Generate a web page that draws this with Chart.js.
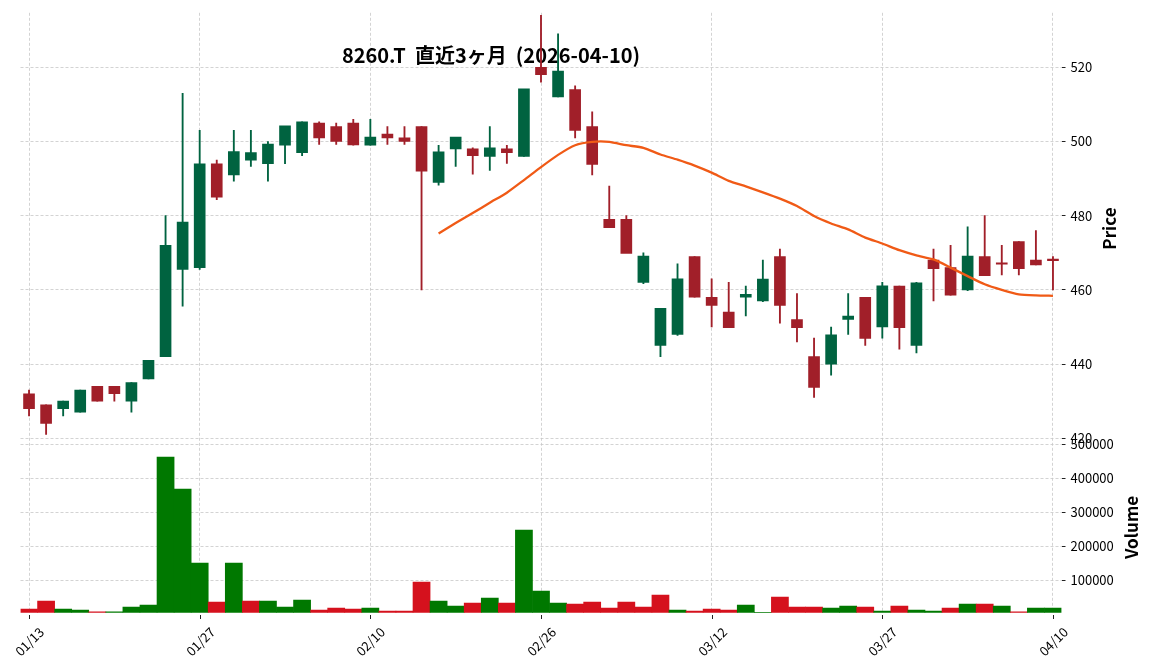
<!DOCTYPE html>
<html>
<head>
<meta charset="utf-8">
<script src="https://cdn.jsdelivr.net/npm/chart.js@4"></script>
<style>
  html, body { margin: 0; padding: 0; background: #fff; }
  #wrap { width: 1152px; height: 670px; }
</style>
</head>
<body>
<div id="wrap"><canvas id="chart"></canvas></div>
<script>
// ===== DATA =====
const dates = ['01/13','01/14','01/15','01/16','01/19','01/20','01/21','01/22','01/23','01/26',
  '01/27','01/28','01/29','01/30','02/02','02/03','02/04','02/05','02/06','02/09',
  '02/10','02/12','02/13','02/16','02/17','02/18','02/19','02/20','02/24','02/25',
  '02/26','02/27','03/02','03/03','03/04','03/05','03/06','03/09','03/10','03/11',
  '03/12','03/13','03/16','03/17','03/18','03/19','03/23','03/24','03/25','03/26',
  '03/27','03/30','03/31','04/01','04/02','04/03','04/06','04/07','04/08','04/09','04/10'];

const opens  = [432, 429, 428, 427, 434, 434, 430, 436, 442, 465.5,
  466, 494, 491, 495, 494, 499, 497, 505, 504, 505,
  499, 502, 501, 504, 489, 498, 498, 496, 498, 496,
  520, 512, 514, 504, 479, 479, 462, 445, 448, 469,
  458, 454, 458, 457, 469, 452, 442, 440, 452, 458,
  450, 461, 445, 468, 466, 460, 469, 467, 473, 468, 468];
const highs  = [433, 429, 430, 433, 434, 434, 435, 441, 480, 513,
  503, 495, 503, 503, 500, 504, 505.3, 505.3, 505, 506,
  506, 504, 504, 504, 499, 501, 498.3, 504, 499, 514,
  534, 529, 515, 508, 488, 480, 470, 455, 467, 469,
  463, 462, 461, 468, 471, 459, 447, 450, 459, 458,
  462, 461, 462, 471, 472, 477, 480, 472, 473, 476, 469];
const lows   = [426, 421, 426, 427, 430, 430, 427, 436, 442, 455.6,
  465.5, 484.3, 489.3, 493.3, 489.3, 494, 496.2, 499.2, 499.2, 499,
  499, 499.2, 499.2, 460, 488.2, 493.3, 491.2, 492.2, 494.1, 496,
  516, 512, 501, 491, 477, 470, 461.7, 442, 447.7, 458,
  450, 450, 453, 456.8, 451, 446, 431, 437, 448, 445,
  447, 444, 443, 457, 458.6, 459.8, 463.8, 464, 464, 466.7, 460];
const closes = [428, 424, 430, 433, 430, 432, 435, 441, 472, 478.3,
  494, 485, 497.3, 497, 499.3, 504.2, 505.3, 501, 500, 499.1,
  501.2, 501, 500, 492, 497.2, 501.2, 496.2, 498.3, 497, 514.2,
  518, 519, 503, 493.8, 476.8, 469.8, 469.1, 455, 463, 458,
  455.8, 449.8, 458.8, 462.9, 455.8, 449.8, 433.7, 447.9, 452.9, 446.9,
  461.1, 449.8, 461.9, 465.7, 458.6, 469.1, 463.8, 466.9, 465.7, 466.7, 467.9];

const volumes = [15700, 39200, 15700, 12700, 6900, 6900, 21600, 27500, 462700, 368600,
  151000, 36300, 151000, 39200, 39200, 21600, 42200, 12700, 18600, 15700,
  18600, 9800, 9800, 95100, 39200, 24500, 33300, 48000, 33300, 248000,
  68600, 33300, 30400, 36300, 18600, 36300, 21600, 56900, 12700, 9800,
  15700, 12700, 27500, 5900, 51000, 21600, 21600, 18600, 24500, 21600,
  9800, 24500, 12700, 9800, 18600, 30400, 30400, 24500, 6900, 18600, 18600];

// 25-day moving average as drawn (starts at the 25th session)
const ma25 = [null, null, null, null, null, null, null, null, null, null,
  null, null, null, null, null, null, null, null, null, null,
  null, null, null, null, 475.2, 478.0, 480.7, 483.5, 486.2, 489.6,
  493.1, 496.4, 499.0, 499.9, 499.9, 499.0, 498.3, 496.5, 495.1, 493.5,
  491.6, 489.4, 487.9, 486.3, 484.6, 482.6, 479.9, 477.9, 476.3, 474.1,
  472.5, 470.7, 469.3, 468.2, 466.0, 463.7, 461.5, 460.0, 458.8, 458.5, 458.4];

const priceTicks = [420, 440, 460, 480, 500, 520];
const volumeTicks = [100000, 200000, 300000, 400000, 500000];
const dateTickEvery = 10;
const titleText = '8260.T  直近3ヶ月  (2026-04-10)';

// ===== STYLE =====
const UP = '#006340', DOWN = '#a11f29';
const VUP = '#007800', VDOWN = '#d5111d';
const MA_COLOR = '#f05a16';
const GRID = '#c8c8c8';
const FONT = '"Noto Sans CJK JP", "Noto Sans", sans-serif';

const candleColors = opens.map((o, i) => closes[i] >= o ? UP : DOWN);
const volColors = closes.map((c, i) => {
  const prev = i === 0 ? opens[0] : closes[i - 1];
  return c >= prev ? VUP : VDOWN;
});

// ===== TEXT PLUGIN =====
function rotatedLabel(ctx, text, x, y, angle) {
  ctx.save();
  ctx.translate(x, y);
  ctx.rotate(angle);
  ctx.fillText(text, 0, 0);
  ctx.restore();
}

const labelsPlugin = {
  id: 'labels',
  beforeDatasetsDraw(chart) {
    const ctx = chart.ctx;
    ctx.save();
    ctx.fillStyle = '#000';
    ctx.font = 'bold 20px ' + FONT;
    ctx.textAlign = 'center';
    ctx.textBaseline = 'middle';
    ctx.fillText(titleText, 491, 55);
    ctx.restore();
  },
  afterDraw(chart) {
    const ctx = chart.ctx;
    const x = chart.scales.x, yP = chart.scales.y, yV = chart.scales.yVol;
    ctx.save();
    ctx.fillStyle = '#000';
    ctx.textAlign = 'center';
    ctx.textBaseline = 'middle';

    // axis titles
    ctx.font = 'bold 17px ' + FONT;
    rotatedLabel(ctx, 'Price', 1110, (yP.top + yP.bottom) / 2 + 3, -Math.PI / 2);
    rotatedLabel(ctx, 'Volume', 1132, (yV.top + yV.bottom) / 2 + 2, -Math.PI / 2);

    // date ticks + 45° labels centred under each tick
    ctx.font = '13px ' + FONT;
    ctx.strokeStyle = '#222';
    ctx.lineWidth = 1;
    dates.forEach((d, i) => {
      if (i % dateTickEvery !== 0) return;
      const px = Math.round(x.getPixelForTick(i)) + 0.5;
      ctx.beginPath();
      ctx.moveTo(px, 615);
      ctx.lineTo(px, 619);
      ctx.stroke();
      const w = ctx.measureText(d).width;
      const ext = (w + 10) / Math.SQRT2;
      rotatedLabel(ctx, d, px, 626 + ext / 2, -Math.PI / 4);
    });
    ctx.restore();
  }
};

const gridOpts = {
  color: GRID,
  lineWidth: 0.8,
  tickColor: '#222',
  tickBorderDash: [],
  tickLength: 4,
  tickWidth: 1
};
const borderOpts = { display: false, dash: [3, 2] };

new Chart(document.getElementById('chart'), {
  type: 'bar',
  data: {
    labels: dates,
    datasets: [
      {
        label: 'Wick',
        data: dates.map((d, i) => [lows[i], highs[i]]),
        backgroundColor: candleColors,
        barThickness: 1.2,
        grouped: false,
        yAxisID: 'y',
        order: 2
      },
      {
        label: 'Body',
        data: dates.map((d, i) => [opens[i], closes[i]]),
        backgroundColor: candleColors,
        barThickness: 11,
        minBarLength: 1.5,
        grouped: false,
        yAxisID: 'y',
        order: 1
      },
      {
        type: 'line',
        label: 'MA25',
        data: ma25,
        borderColor: MA_COLOR,
        borderWidth: 2.3,
        pointRadius: 0,
        tension: 0.2,
        yAxisID: 'y',
        order: 0
      },
      {
        label: 'Volume',
        data: volumes,
        backgroundColor: volColors,
        barPercentage: 1,
        categoryPercentage: 1,
        grouped: false,
        yAxisID: 'yVol',
        order: 3
      }
    ]
  },
  options: {
    responsive: true,
    maintainAspectRatio: false,
    animation: false,
    layout: { padding: { left: 20.5, top: 12, right: 0, bottom: 0 } },
    plugins: {
      legend: { display: false },
      tooltip: { enabled: false }
    },
    scales: {
      x: {
        type: 'category',
        offset: true,
        border: borderOpts,
        grid: { ...gridOpts, offset: false, drawTicks: false,
          color: ctx => (ctx.index % dateTickEvery === 0 ? GRID : 'rgba(0,0,0,0)') },
        ticks: { display: false, autoSkip: false },
        afterFit: s => { s.height = 57.3; }
      },
      y: {
        position: 'right',
        stack: 'panels',
        stackWeight: 426,
        min: 420,
        max: 534.7,
        border: borderOpts,
        grid: gridOpts,
        afterBuildTicks: s => { s.ticks = priceTicks.map(v => ({ value: v })); },
        ticks: {
          padding: 5,
          color: '#000',
          font: { family: FONT, size: 13 }
        },
        afterFit: s => { s.width = 90.5; }
      },
      yVol: {
        position: 'right',
        stack: 'panels',
        stackWeight: 174.7,
        min: 4700,
        max: 518500,
        border: borderOpts,
        grid: gridOpts,
        afterBuildTicks: s => { s.ticks = volumeTicks.map(v => ({ value: v })); },
        ticks: {
          padding: 5,
          color: '#000',
          font: { family: FONT, size: 13 },
          callback: v => String(v)
        },
        afterFit: s => { s.width = 90.5; }
      }
    }
  },
  plugins: [labelsPlugin]
});
</script>
</body>
</html>
